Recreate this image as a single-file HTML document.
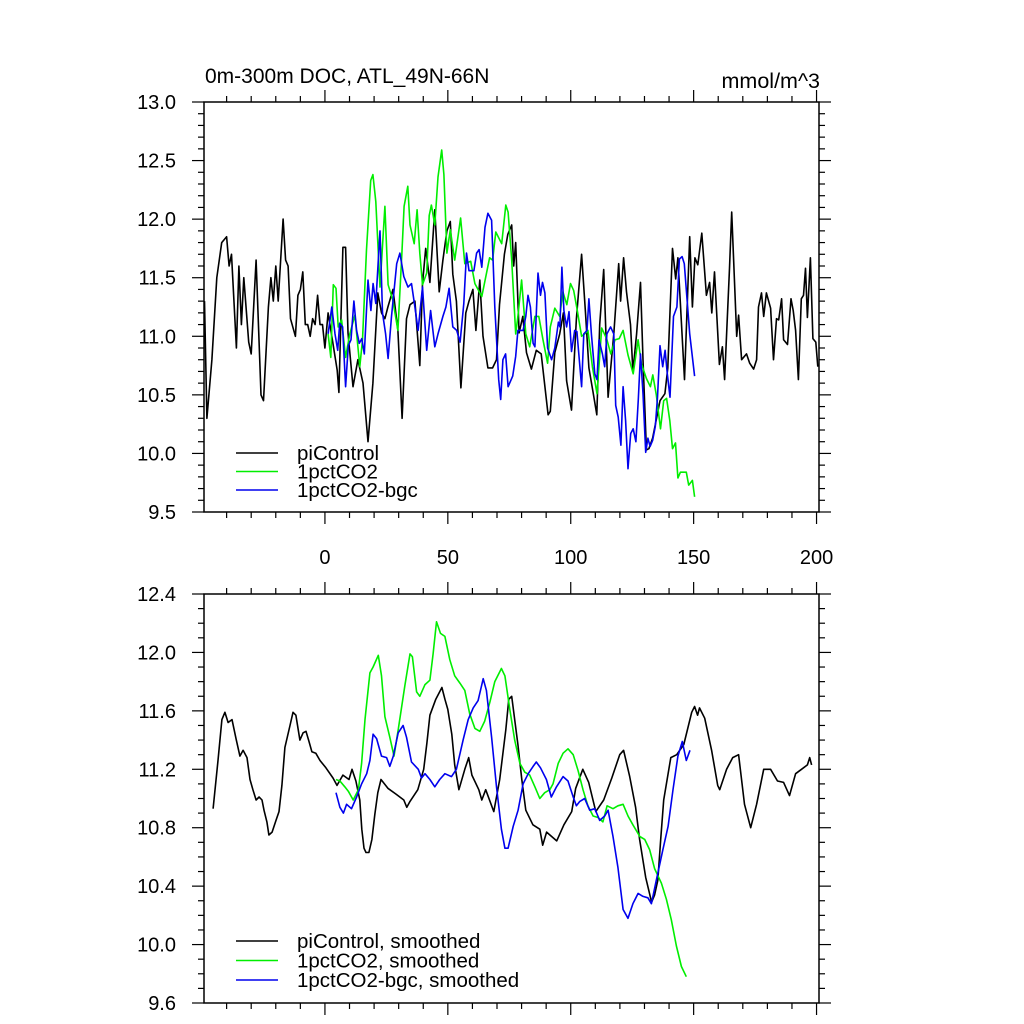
<!DOCTYPE html>
<html><head><meta charset="utf-8"><style>
html,body{margin:0;padding:0;background:#fff;}
svg{display:block;font-family:"Liberation Sans",sans-serif;}
</style></head><body>
<svg id="chart" width="1024" height="1024" viewBox="0 0 1024 1024" xmlns="http://www.w3.org/2000/svg">
<text x="205" y="83" font-size="21">0m-300m DOC, ATL_49N-66N</text>
<text x="820" y="88" font-size="21.5" text-anchor="end">mmol/m^3</text>
<g id="top"></g>
<g id="bot"></g>
</svg>
<script>
// ---- data: top panel (annual) ----
const piYears = [-49,-48,-46,-44,-42,-40,-39,-38,-36,-35,-34,-33,-31,-30,-28,-26,-25,-23,-22,-21,-20,-19,-17,-16,-15,-14,-12,-11,-10,-9,-8,-7,-6,-5,-4,-3,-2,-1,0,1.3,5,5.7,7.3,8.4,9.4,11.4,13.4,15.5,17.5,19.5,21.5,23,24.4,25.6,27.7,29.7,31.4,33.2,34.6,36.6,38.6,39.7,41,42.7,44.7,46.5,48,49.6,51,52,53.5,55.3,57.3,58.6,60.2,61.4,63,64.3,66.3,68.2,69.8,71,73,74.4,76,76.8,77.6,79,80.5,82,84,86,88,90.8,91.7,93.5,95.5,97,98.3,100.3,102.3,104.4,106,107.4,109,110.6,111.8,113.4,115.2,117.5,119.5,120.3,121.5,122.7,124.3,125.3,126.8,128.4,129.4,130.8,131.8,133.3,135,136.3,138.3,139.5,141.4,142.7,143.6,146.3,148.4,149.5,150.5,151.7,153.3,155.2,156.5,157.4,158.5,160.5,161.7,162.6,164.6,165.5,167.5,168.3,169.5,171.5,172.8,174.4,175.6,176.4,177.6,178.5,179.6,181.3,182.5,183.7,184.6,185.8,186.6,188.2,189.6,190.5,191.5,192.6,193.8,194.7,195.5,196.3,197.5,198.5,199.7,200.5];
const piValues = [11.3,10.3,10.8,11.5,11.8,11.85,11.6,11.7,10.9,11.6,11.1,11.5,10.95,10.85,11.65,10.5,10.45,11.25,11.5,11.3,11.6,11.3,12.0,11.65,11.6,11.15,11.0,11.35,11.4,11.55,11.1,11.1,11.0,11.15,11.1,11.35,11.1,11.1,10.9,11.2,10.71,10.52,11.76,11.76,11.03,10.57,10.8,10.6,10.1,10.6,11.37,11.2,11.15,11.25,11.4,11.05,10.3,11.15,11.27,11.3,10.75,11.45,11.75,11.46,12.08,11.38,11.65,11.9,11.98,11.53,11.3,10.56,11.2,11.3,11.4,11.05,11.48,11.0,10.73,10.73,10.8,11.27,11.7,11.87,11.95,11.6,11.8,11.03,11.17,10.86,10.72,10.88,10.85,10.33,10.36,10.86,11.02,11.2,10.62,10.37,11.15,11.7,11.2,10.73,10.53,10.33,11.1,11.57,10.48,11.02,11.62,11.3,11.67,11.38,11.1,10.7,11.02,11.46,10.8,10.03,10.04,10.13,10.31,10.45,10.51,10.73,11.75,11.49,11.67,10.63,11.85,11.25,11.67,11.61,11.88,11.35,11.46,11.2,11.55,10.76,10.91,10.63,11.58,12.06,11.0,11.18,10.8,10.85,10.77,10.72,10.8,11.25,11.37,11.17,11.37,11.24,10.8,11.15,11.14,11.32,10.97,10.93,11.32,11.22,11.05,10.63,11.32,11.35,11.58,11.16,11.67,10.98,10.95,10.74];
const gYears = [1.3,2.4,3.4,4.5,5.4,6.8,8.4,10.1,12.2,14.2,15.3,16.9,18.6,19.5,20.7,22.4,24.4,25.7,27.6,29.7,31.3,32.2,33.7,34.6,36.3,37.5,38.6,39.7,41.4,42.4,43.3,44.7,46,47.5,48.4,49.6,51,52.8,55.2,56.9,59.3,61,63.8,67,68.2,69.5,71.9,73.6,74.5,76,77.6,78.5,80,81.7,83.3,85.4,87,88.7,90.6,91.7,93.5,95.5,96.8,98.4,99.9,101.2,102.5,104.4,105.7,107,108.8,110.7,112.6,114.6,116.3,118,119.7,121.3,123.3,125.4,127.4,128.7,130.8,132.4,133.4,134.8,136.5,137.8,139,140.3,141.4,142.6,143.6,144.6,147,148,149.5,150.4];
const gValues = [11.02,10.82,11.44,11.41,11.08,11.14,10.82,11.02,11.18,10.74,10.97,11.74,12.33,12.38,12.15,11.42,12.11,11.44,11.31,11.05,11.71,12.11,12.28,11.95,11.79,12.08,11.71,11.44,11.54,12.03,12.12,11.95,12.36,12.59,12.38,11.71,11.91,11.65,12.01,11.62,11.64,11.45,11.34,11.67,11.65,11.89,11.79,12.12,12.06,11.65,11.02,11.17,11.48,11.02,10.91,11.17,11.17,10.97,10.77,11.08,11.24,11.17,11.38,11.27,11.45,11.39,11.24,11.0,11.02,11.05,10.74,10.51,11.07,10.98,10.85,10.97,10.98,11.05,10.84,10.68,10.97,10.77,10.64,10.57,10.67,10.5,10.21,10.45,10.47,10.28,10.04,10.09,9.79,9.84,9.84,9.73,9.77,9.63];
const bYears = [1.3,2.8,4.1,5.2,6,7.2,8.4,9.5,10.6,11.8,12.9,14,15,16,17.5,18.7,19.6,20.7,22.4,23.4,24.7,25.7,27.1,29.2,30.5,32.1,33.8,35.2,36.6,37.9,39.7,41.4,43,44.7,46,48,49.2,50.5,52,53.6,55,56.5,57.6,58.6,60.6,61.7,62.7,63.8,65.1,66.3,67.8,69.1,70.7,71.5,72.4,73.5,74.5,76.4,77.6,78.5,80.6,81.7,82.6,83.6,84.7,85.4,86.7,87.7,88.5,89.5,90.6,92.2,93.5,95,95.6,96.4,97.2,98.3,99.3,100.3,101.6,102.5,104.4,105.3,106.6,107.4,108.4,109.8,110.7,111.5,112.9,113.8,114.7,116.2,117.5,118.3,119.3,120.4,121.3,122.3,123.3,124.4,125.4,126.5,127.5,128.4,129.4,130.5,131.4,132.3,133.3,134.4,135.3,136.3,137.4,138.4,139.3,140.4,141.8,143.2,144.2,145.3,146.2,148.4,150.4];
const bValues = [11.02,11.25,11.02,10.88,11.11,11.08,10.57,10.92,10.97,11.3,11.05,10.94,10.98,10.85,11.48,11.22,11.45,11.28,11.9,11.2,11.02,10.81,11.17,11.62,11.71,11.51,11.42,11.45,11.25,11.05,11.42,10.88,11.22,10.91,11.02,11.17,11.25,11.41,11.08,11.05,10.95,11.28,11.71,11.56,11.56,11.71,11.74,11.59,11.93,12.05,11.99,11.25,10.63,10.46,10.8,10.85,10.57,10.66,10.83,11.05,11.05,11.17,11.35,11.25,10.94,10.91,11.54,11.35,11.46,11.37,10.9,10.8,10.9,11.12,11.08,11.59,11.22,11.08,11.21,10.87,11.05,11.04,10.57,11.02,11.05,11.32,11.02,10.68,10.63,10.97,10.85,10.74,11.02,11.08,11.02,10.41,10.31,10.07,10.57,10.28,9.87,10.17,10.21,10.1,10.46,10.85,10.51,10.01,10.13,10.06,10.11,10.23,10.48,10.92,10.74,10.88,10.68,10.48,11.17,11.25,11.66,11.68,11.62,11.02,10.66];

// ---- data: bottom panel (smoothed) ----
const piSmYears = [-45.5,-43.5,-41.9,-40.7,-39.4,-37.8,-36.2,-34.6,-33.3,-31.7,-30.5,-29.3,-28,-26.8,-25.6,-24.8,-23.6,-22.8,-21.5,-19.9,-18.7,-17.5,-16.3,-14.2,-13,-11.8,-10.2,-8.9,-7.7,-6.5,-5.3,-3.7,-2,0.4,3.3,4.9,7.3,9.8,11,12.6,14.2,15,15.9,16.7,17.9,19.1,20.3,21.5,22.8,25.6,28.9,32.1,33.3,34.6,37.8,40.2,41.5,42.7,45.1,47.6,48.8,50,51.6,52.8,54.5,56.9,58.5,59.8,62.6,63.8,65.4,68.7,71.1,73.6,74.8,76,78.5,80.1,81.7,84.6,87.4,88.6,90.2,94.3,97.2,100.4,102,104.9,107.3,110.2,113.4,116.7,119.9,121.5,124,126.4,128,130.5,132.9,134.1,135.4,136.6,137.8,140.7,143.1,146,149.2,150.4,151.6,152.4,154.5,157.3,159.8,160.6,163.4,165.9,168.3,170.7,173.2,175.6,178.5,181.3,184.1,186.6,189,191.5,193.9,196.3,197.2,198];
const piSmValues = [10.93,11.26,11.54,11.59,11.52,11.54,11.41,11.29,11.33,11.28,11.13,11.06,10.99,11.01,10.99,10.92,10.84,10.75,10.77,10.85,10.91,11.09,11.35,11.5,11.59,11.57,11.4,11.45,11.46,11.39,11.32,11.31,11.26,11.21,11.14,11.09,11.16,11.13,11.2,11.12,10.99,10.79,10.66,10.63,10.63,10.72,10.89,11.04,11.13,11.07,11.03,10.99,10.94,10.98,11.06,11.2,11.38,11.57,11.68,11.76,11.68,11.61,11.44,11.23,11.06,11.2,11.28,11.16,11.06,10.99,11.06,10.91,11.13,11.47,11.68,11.7,11.37,11.13,10.92,10.82,10.79,10.68,10.77,10.71,10.82,10.91,11.07,11.2,11.11,10.91,10.99,11.14,11.3,11.33,11.15,10.94,10.72,10.46,10.29,10.34,10.44,10.72,10.99,11.28,11.3,11.37,11.59,11.63,11.57,11.62,11.55,11.33,11.09,11.06,11.2,11.28,11.3,10.96,10.8,10.96,11.2,11.2,11.12,11.11,11.02,11.17,11.2,11.23,11.28,11.23];
const gSmYears = [4.5,6.1,8.1,9.5,11.5,13.6,14.9,16.3,18.3,19.6,21.7,23,24.4,26.4,28.1,29.8,32.5,34.6,35.6,37.3,38.6,40.7,42.7,44,45.4,47,48.8,50.8,52.8,54.9,56.9,58.9,61,63,65,67.1,69.1,71.8,73.2,75.2,77.2,79.3,81.3,83.3,85.4,87.4,89.4,91.5,92.8,94.9,96.9,98.9,101,103,105,107,109.1,111.1,113.1,114.8,117.2,119.2,121.3,123.3,125.3,128.1,130.1,132.1,134.1,136.9,138.9,140.9,143,145,147];
const gSmValues = [11.13,11.12,11.08,11.05,10.99,11.06,11.24,11.54,11.86,11.9,11.98,11.84,11.56,11.42,11.29,11.47,11.77,11.99,11.97,11.73,11.7,11.78,11.81,11.99,12.21,12.13,12.11,11.95,11.84,11.79,11.74,11.58,11.48,11.46,11.53,11.66,11.8,11.89,11.84,11.61,11.4,11.24,11.18,11.16,11.08,11.0,11.04,11.06,11.1,11.24,11.31,11.34,11.3,11.19,11.06,10.95,10.88,10.87,10.84,10.95,10.93,10.95,10.96,10.88,10.82,10.74,10.72,10.65,10.52,10.42,10.31,10.17,9.99,9.85,9.78];
const bSmYears = [4.5,6.1,7.5,8.8,10.8,12.9,14.9,17,18.3,19.6,21,23,25.1,26.4,27.8,29.8,31.8,33.2,35.2,38,39.3,40.7,42.7,44.7,46.7,48.8,51.5,53.5,56.2,58.3,60.3,62.3,64.4,65.7,67.8,69.8,71.8,73.2,74.5,76.6,78.6,80.6,82.7,84.7,86,87.7,90.1,92.1,94.2,96.9,98.9,101,102.3,103.7,105.7,107.7,109.8,111.8,113.8,115.2,117.2,119.2,121.3,123.3,125.3,127.4,129.4,131.4,132.8,134.8,137.5,139.6,141.6,143.6,145.4,147,148.5];
const bSmValues = [11.04,10.94,10.9,10.96,10.93,11.01,11.1,11.17,11.26,11.44,11.41,11.29,11.28,11.22,11.29,11.45,11.5,11.42,11.25,11.2,11.14,11.17,11.13,11.08,11.13,11.17,11.15,11.2,11.4,11.54,11.62,11.67,11.82,11.74,11.42,11.08,10.79,10.66,10.66,10.81,10.92,11.1,11.17,11.22,11.25,11.21,11.13,11.01,11.08,11.15,11.12,11.01,10.95,10.98,11.0,10.92,10.93,10.85,10.88,10.92,10.74,10.53,10.24,10.18,10.28,10.35,10.33,10.32,10.28,10.44,10.65,10.81,11.06,11.29,11.39,11.26,11.33];

const topYTicks = ["9.5","10.0","10.5","11.0","11.5","12.0","12.5","13.0"];
const botYTicks = ["9.6","10.0","10.4","10.8","11.2","11.6","12.0","12.4"];
const xTickLabels = ["0","50","100","150","200"];

const NS = "http://www.w3.org/2000/svg";
const X0 = 204, X1 = 819, XMIN = -49.2, XMAX = 201;
function sx(v){ return X0 + (v - XMIN) / (XMAX - XMIN) * (X1 - X0); }
function mk(tag, attrs, parent){ const e = document.createElementNS(NS, tag); for (const k in attrs) e.setAttribute(k, attrs[k]); parent.appendChild(e); return e; }

function panel(g, top, bottom, ymin, ymax, yTicks, minorStep, showXLabels){
  const sy = v => bottom - (v - ymin) / (ymax - ymin) * (bottom - top);
  const frame = mk("rect", {x:X0, y:top, width:X1-X0, height:bottom-top, fill:"none", stroke:"#000", "stroke-width":1.5}, g);
  
  
  const nMinor = Math.round((ymax - ymin) / minorStep);
  for (let i = 0; i <= nMinor; i++){
    const v = ymin + i * minorStep, y = sy(v);
    const major = yTicks.some(t => Math.abs(parseFloat(t) - v) < 1e-6);
    const len = major ? 12 : 6;
    mk("line", {x1:X0-len, y1:y, x2:X0, y2:y, stroke:"#000", "stroke-width":1.2}, g);
    mk("line", {x1:X1, y1:y, x2:X1+len, y2:y, stroke:"#000", "stroke-width":1.2}, g);
  }
  yTicks.forEach(t => {
    const lab = mk("text", {x:176, y:sy(parseFloat(t))+7, "font-size":20, "text-anchor":"end"}, g);
    lab.textContent = t;
    
    
  });
  for (let v = -40; v <= 200; v += 10){
    const x = sx(v), major = v % 50 === 0, len = major ? 12 : 6;
    mk("line", {x1:x, y1:top-len, x2:x, y2:top, stroke:"#000", "stroke-width":1.2}, g);
    mk("line", {x1:x, y1:bottom, x2:x, y2:bottom+len, stroke:"#000", "stroke-width":1.2}, g);
  }
  if (showXLabels){
    xTickLabels.forEach(t => {
      const lab = mk("text", {x:sx(parseFloat(t)), y:bottom+52, "font-size":20, "text-anchor":"middle"}, g);
      lab.textContent = t;
      
      
    });
  }
  return sy;
}
function series(g, sy, xs, ys, color, name){
  const d = xs.map((x,i) => (i ? "L" : "M") + sx(x).toFixed(1) + "," + sy(ys[i]).toFixed(1)).join("");
  const p = mk("path", {d:d, fill:"none", stroke:color, "stroke-width":1.6, "stroke-linejoin":"round"}, g);
  
  
}
function legend(g, y0, dy, labels, colors){
  labels.forEach((l,i) => {
    const y = y0 + i*dy;
    const ln = mk("line", {x1:236, y1:y, x2:278, y2:y, stroke:colors[i], "stroke-width":1.6}, g);
    
    
    const t = mk("text", {x:297, y:y+7, "font-size":20.5}, g);
    t.textContent = l;
    
    
  });
}
const gt = document.getElementById("top");
const syT = panel(gt, 102, 512, 9.5, 13.0, topYTicks, 0.1, true);
series(gt, syT, piYears, piValues, "#000", "picontrol-line");
series(gt, syT, gYears, gValues, "#00ee00", "1pctco2-line");
series(gt, syT, bYears, bValues, "#0000ee", "1pctco2-bgc-line");
legend(gt, 453, 18.5, ["piControl","1pctCO2","1pctCO2-bgc"], ["#000","#00ee00","#0000ee"]);

const gb = document.getElementById("bot");
const syB = panel(gb, 594, 1003, 9.6, 12.4, botYTicks, 0.1, false);
series(gb, syB, piSmYears, piSmValues, "#000", "picontrol-smoothed-line");
series(gb, syB, gSmYears, gSmValues, "#00ee00", "1pctco2-smoothed-line");
series(gb, syB, bSmYears, bSmValues, "#0000ee", "1pctco2-bgc-smoothed-line");
legend(gb, 941, 19.5, ["piControl, smoothed","1pctCO2, smoothed","1pctCO2-bgc, smoothed"], ["#000","#00ee00","#0000ee"]);
</script>
</body></html>
